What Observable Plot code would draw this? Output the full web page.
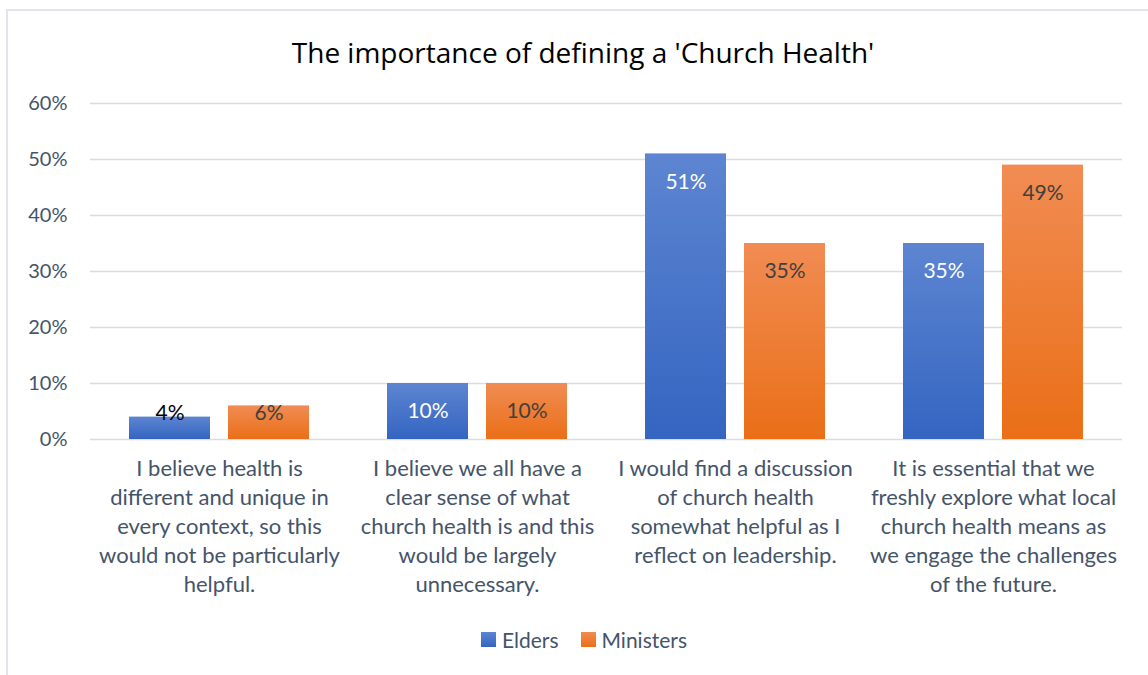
<!DOCTYPE html>
<html>
<head>
<meta charset="utf-8">
<script src="https://cdn.jsdelivr.net/npm/d3@7"></script>
<script src="https://cdn.jsdelivr.net/npm/@observablehq/plot@0.6"></script>
<style>
  html, body { margin: 0; padding: 0; background: #fff; }
  body { width: 1148px; height: 675px; position: relative; overflow: hidden; font-family: Lato, "Noto Sans", sans-serif; }
  #frame { position: absolute; left: 6px; top: 9px; width: 1200px; height: 700px; border-left: 2px solid #e1e5eb; border-top: 2px solid #e1e5eb; box-sizing: border-box; }
  #title { position: absolute; left: 0; width: 1166px; top: 33px; text-align: center; font-family: "Open Sans", Lato, sans-serif; font-size: 28px; color: #000; }
  #chart { position: absolute; left: 0; top: 0; }
  #legend { position: absolute; top: 627px; left: 0; width: 1168px; display: flex; justify-content: center; gap: 22px; font-size: 21px; color: #44546A; }
  .item { display: flex; align-items: center; gap: 6px; }
  .sw { width: 15px; height: 15px; display: inline-block; }
</style>
</head>
<body>
<div id="frame"></div>
<div id="title">The importance of defining a 'Church Health'</div>
<div id="chart"></div>
<div id="legend"></div>
<script>
const categories = [
  "I believe health is\ndifferent and unique in\nevery context, so this\nwould not be particularly\nhelpful.",
  "I believe we all have a\nclear sense of what\nchurch health is and this\nwould be largely\nunnecessary.",
  "I would find a discussion\nof church health\nsomewhat helpful as I\nreflect on leadership.",
  "It is essential that we\nfreshly explore what local\nchurch health means as\nwe engage the challenges\nof the future."
];
const series = ["Elders", "Ministers"];
const elders = [4, 10, 51, 35];
const ministers = [6, 10, 35, 49];
const yTicks = [0, 10, 20, 30, 40, 50, 60];

const seriesColors = {
  Elders: ["#5d85d1", "#3465c1"],
  Ministers: ["#f18c53", "#ea6f17"]
};
const gradId = {Elders: "gradElders", Ministers: "gradMinisters"};

const data = [];
categories.forEach((c, i) => {
  data.push({cat: c, series: "Elders", value: elders[i]});
  data.push({cat: c, series: "Ministers", value: ministers[i]});
});

const labelY = d => Math.max(d.value - 5, 4.7);
const fontCss = "Lato, 'Noto Sans', sans-serif";

const chart = Plot.plot({
  width: 1148,
  height: 675,
  marginTop: 103,
  marginBottom: 236,
  marginLeft: 88,
  marginRight: 25,
  style: {fontFamily: fontCss, background: "transparent", overflow: "visible"},
  fx: {domain: categories, padding: 0, label: null, axis: null},
  x: {domain: series, paddingInner: 0.185, paddingOuter: 0.39, axis: null},
  y: {domain: [0, 60], axis: null},
  marks: [
    Plot.gridY(yTicks, {stroke: "#d9dde3", strokeOpacity: 1, strokeWidth: 1.5}),
    Plot.barY(data.filter(d => d.series === "Elders"), {fx: "cat", x: "series", y: "value", fill: "url(#gradElders)"}),
    Plot.barY(data.filter(d => d.series === "Ministers"), {fx: "cat", x: "series", y: "value", fill: "url(#gradMinisters)"}),
    Plot.text(data.filter(d => d.series === "Elders" && d.value >= 8), {fx: "cat", x: "series", y: labelY, text: d => d.value + "%", fill: "#ffffff", fontSize: 21}),
    Plot.text(data.filter(d => d.series === "Elders" && d.value < 8), {fx: "cat", x: "series", y: labelY, text: d => d.value + "%", fill: "#000000", fontSize: 21}),
    Plot.text(data.filter(d => d.series === "Ministers"), {fx: "cat", x: "series", y: labelY, text: d => d.value + "%", fill: "#404040", fontSize: 21}),
    Plot.axisY({ticks: yTicks, tickFormat: d => d + "%", tickSize: 0, tickPadding: 23, fontSize: 20, fill: "#44546A", label: null}),
    Plot.axisFx({anchor: "bottom", tickSize: 0, tickPadding: 16, fontSize: 22, lineHeight: 1.318, fill: "#44546A", label: null, lineWidth: 100})
  ]
});

const svg = d3.select(chart);
const defs = svg.insert("defs", ":first-child");
series.forEach(s => {
  const g = defs.append("linearGradient").attr("id", gradId[s]).attr("x1", 0).attr("y1", 0).attr("x2", 0).attr("y2", 1);
  g.append("stop").attr("offset", "0%").attr("stop-color", seriesColors[s][0]);
  g.append("stop").attr("offset", "100%").attr("stop-color", seriesColors[s][1]);
});
document.getElementById("chart").appendChild(chart);

const legend = d3.select("#legend");
series.forEach(s => {
  const it = legend.append("div").attr("class", "item");
  it.append("span").attr("class", "sw").style("background", `linear-gradient(${seriesColors[s][0]}, ${seriesColors[s][1]})`);
  it.append("span").text(s);
});
</script>
</body>
</html>
